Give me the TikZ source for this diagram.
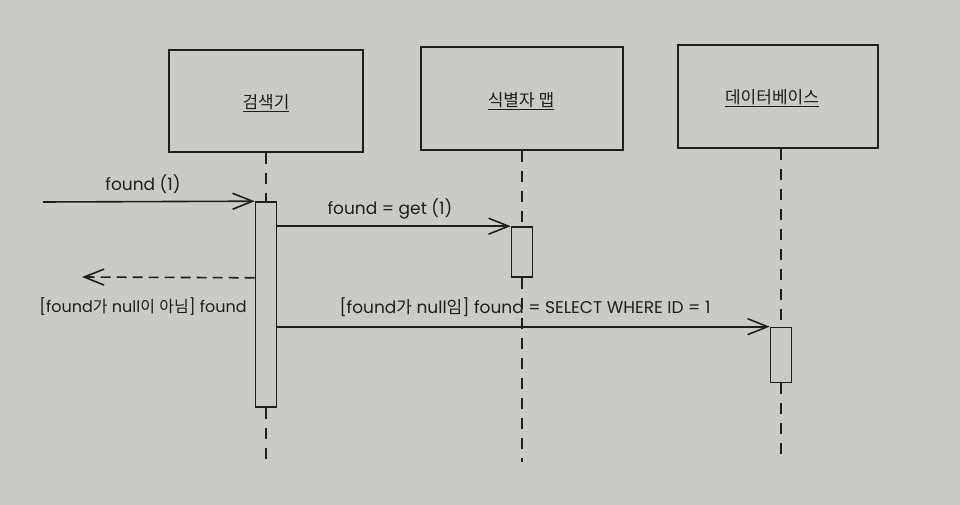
\documentclass[tikz,border=0pt]{standalone}
\usepackage{fontspec}
\setmainfont{Poppins}
\newfontfamily\kr{Noto Sans CJK KR}
\usetikzlibrary{arrows.meta}
\definecolor{paper}{RGB}{202,202,198}
\definecolor{ink}{RGB}{30,30,30}
\tikzset{
  actor/.style={draw=ink, line width=1.8pt, fill=paper, inner sep=0pt},
  actbox/.style={draw=ink, line width=1.6pt, fill=paper, minimum width=21pt, inner sep=0pt},
  life/.style={draw=ink, line width=1.8pt, dash pattern=on 11pt off 9pt},
  msg/.style={draw=ink, line width=1.6pt, -{Straight Barb[length=20pt,width=16pt,line width=1.6pt]}},
  ret/.style={msg, dash pattern=on 10pt off 6pt},
  lbl/.style={text=ink, font=\fontsize{17}{19}\selectfont, inner sep=0pt},
  title/.style={text=ink, font=\kr\fontsize{17}{19}\selectfont, inner sep=0pt}
}
\begin{document}
\begin{tikzpicture}[x=1pt,y=-1pt]
\fill[paper] (0,0) rectangle (960,505);
\useasboundingbox (0,0) rectangle (960,505);
% actors
\node[actor, minimum width=194pt, minimum height=102pt] (a1) at (266,101) {};
\node[actor, minimum width=202pt, minimum height=103pt] (a2) at (522,98.5) {};
\node[actor, minimum width=200pt, minimum height=103pt] (a3) at (778,96.5) {};
\node[title] (t1) at (266,103) {\underline{검색기}};
\node[title] (t2) at (521,101) {\underline{식별자 맵}};
\node[title] (t3) at (772,98) {\underline{데이터베이스}};
% activations
\node[actbox, minimum height=205pt] (x1) at (266,304.5) {};
\node[actbox, minimum height=50pt] (x2) at (522,252) {};
\node[actbox, minimum height=55pt] (x3) at (781,355) {};
% lifeline ends
\coordinate (e1) at (266,462);
\coordinate (e2) at (522,462);
\coordinate (e3) at (781,456);
\draw[life] (a1.south) -- (x1.north);
\draw[life] (x1.south) -- (e1);
\draw[life] (a2.south) -- (x2.north);
\draw[life] (x2.south) -- (e2);
\draw[life] (a3.south -| x3.north) -- (x3.north);
\draw[life] (x3.south) -- (e3);
% messages
\coordinate (s0) at (43,202);
\draw[msg] (s0) -- (x1.north west);
\node[lbl] (l1) at (143,184) {found (1)};
\draw[msg] (x1.east |- x2.north) -- (x2.north west);
\node[lbl] (l2) at (390,209) {found = get (1)};
\coordinate (r0) at (82,277);
\draw[ret] (x1.west |- x2.south) -- (r0);
\node[lbl, font=\fontsize{16}{18}\selectfont] (l3) at (143,307) {[found{\kr 가} null{\kr 이} {\kr 아님}] found};
\draw[msg] (x1.east |- x3.north) -- (x3.north west);
\node[lbl] (l4) at (525,307) {[found{\kr 가} null{\kr 임}] found = SELECT WHERE ID = 1};
\end{tikzpicture}
\end{document}
